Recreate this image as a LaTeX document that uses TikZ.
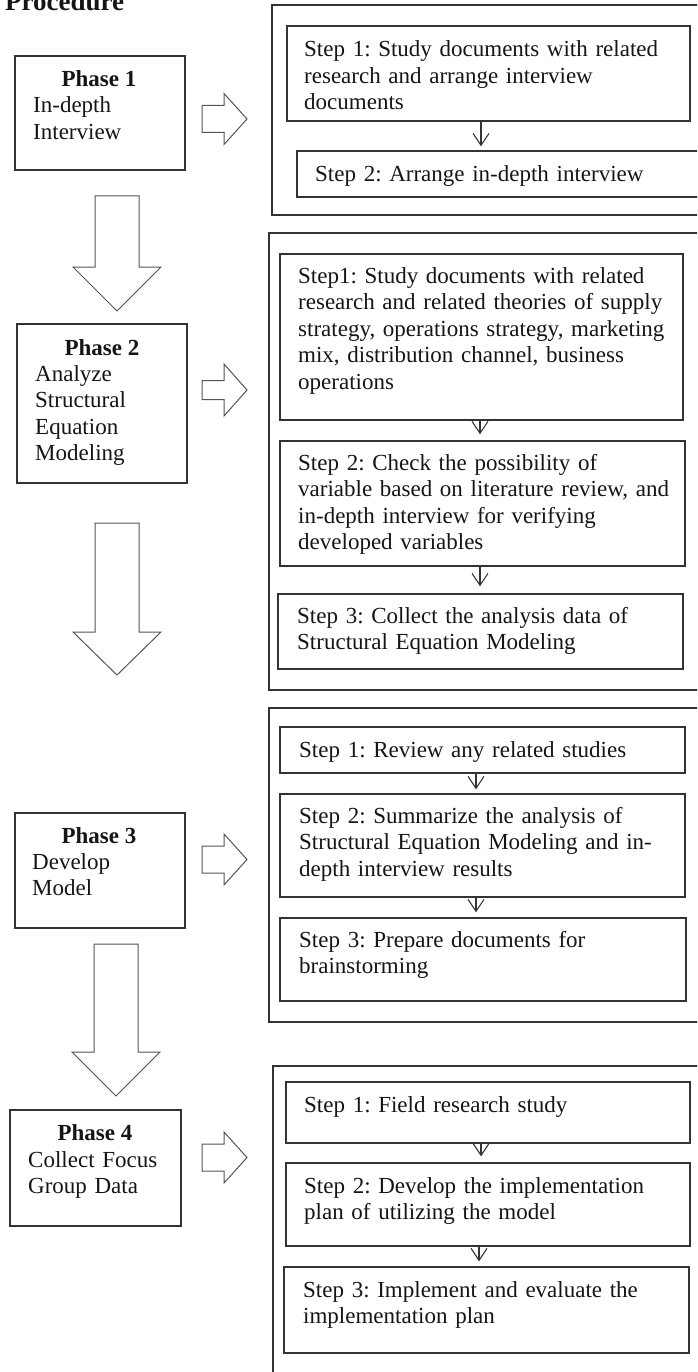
\documentclass[tikz,border=0pt]{standalone}
\usepackage{fontspec}
\setmainfont{Liberation Serif}
\usetikzlibrary{fit,arrows.meta}
\definecolor{ink}{HTML}{151515}
\definecolor{edge}{HTML}{333333}
\definecolor{arr}{HTML}{555555}
\frenchspacing
\begin{document}
\begin{tikzpicture}[x=1pt,y=-1pt,
  stepbox/.style={draw=edge, line width=1.3pt, inner sep=0pt},
  outerbox/.style={draw=edge, line width=1.3pt, inner sep=0pt},
  txt/.style={inner sep=0pt, text width=400pt, align=left, anchor=base west, text=ink, font=\fontsize{23}{26.5}\selectfont},
  ttl/.style={inner sep=0pt, anchor=base, text=ink, font=\fontsize{23}{26.5}\selectfont\bfseries},
  blockarrow/.style={draw=arr, line width=1pt, fill=white, line join=miter},
  smallarrow/.style={draw=edge, line width=1.1pt, -{Straight Barb[length=12pt,width=16pt]}}
]
\useasboundingbox (0,0) rectangle (697,1372);
\clip (0,0) rectangle (697,1372);

% heading
\node[inner sep=0pt, anchor=base west, text=ink, font=\fontsize{27}{30}\selectfont\bfseries] (head) at (5,11) {Procedure};

% phase boxes
\node[stepbox, fit={(15,56) (185,170)}] (p1) {};
\node[stepbox, fit={(17,324) (187,483)}] (p2) {};
\node[stepbox, fit={(15,813) (185,928)}] (p3) {};
\node[stepbox, fit={(10,1110) (181,1226)}] (p4) {};

\node[ttl] (p1t) at (99,87) {Phase 1};
\node[txt] (p1b) at (33,113) {In-depth\\Interview};
\node[ttl] (p2t) at (102,355) {Phase 2};
\node[txt] (p2b) at (35,381) {Analyze\\Structural\\Equation\\Modeling};
\node[ttl] (p3t) at (99,843) {Phase 3};
\node[txt] (p3b) at (32,869) {Develop\\Model};
\node[ttl] (p4t) at (95,1140) {Phase 4};
\node[txt] (p4b) at (28,1167) {Collect Focus\\Group Data};

% down block arrows
\draw[blockarrow] (95,196) -- (139,196) -- (139,267) -- (161,267) -- (117,311) -- (73,267) -- (95,267) -- cycle;
\draw[blockarrow] (95,523) -- (139,523) -- (139,632) -- (161,632) -- (117,675) -- (73,632) -- (95,632) -- cycle;
\draw[blockarrow] (94,944) -- (138,944) -- (138,1052) -- (160,1052) -- (116,1096) -- (72,1052) -- (94,1052) -- cycle;

% right block arrows
\draw[blockarrow] (202,105.5) -- (224,105.5) -- (224,93.5) -- (247,119) -- (224,144.5) -- (224,132.5) -- (202,132.5) -- cycle;
\draw[blockarrow] (202,380.5) -- (224,380.5) -- (224,364) -- (247,390) -- (224,416) -- (224,399.5) -- (202,399.5) -- cycle;
\draw[blockarrow] (202,846) -- (224,846) -- (224,834) -- (247,859.5) -- (224,885) -- (224,873) -- (202,873) -- cycle;
\draw[blockarrow] (202,1144) -- (224,1144) -- (224,1132) -- (247,1157.5) -- (224,1183) -- (224,1171) -- (202,1171) -- cycle;

% outer boxes
\node[outerbox, fit={(272,5) (720,215)}] (o1) {};
\node[outerbox, fit={(269,233) (720,690)}] (o2) {};
\node[outerbox, fit={(269,708) (720,1022)}] (o3) {};
\node[outerbox, fit={(273,1066) (720,1400)}] (o4) {};

% step boxes
\node[stepbox, fit={(287,26) (690,121)}] (s11) {};
\node[stepbox, fit={(297,151) (720,197)}] (s12) {};
\node[stepbox, fit={(280,254) (683,420)}] (s21) {};
\node[stepbox, fit={(280,441) (685,566)}] (s22) {};
\node[stepbox, fit={(278,594) (683,669)}] (s23) {};
\node[stepbox, fit={(280,727) (685,773)}] (s31) {};
\node[stepbox, fit={(280,794) (685,897)}] (s32) {};
\node[stepbox, fit={(280,918) (686,1001)}] (s33) {};
\node[stepbox, fit={(286,1082) (690,1143)}] (s41) {};
\node[stepbox, fit={(286,1163) (690,1246)}] (s42) {};
\node[stepbox, fit={(284,1267) (689,1353)}] (s43) {};

% step texts
\node[txt] (t11) at (304,57) {Step 1: Study documents with related\\research and arrange interview\\documents};
\node[txt] (t12) at (315,182) {Step 2: Arrange in-depth interview};
\node[txt] (t21) at (298,283) {Step1: Study documents with related\\research and related theories of supply\\strategy, operations strategy, marketing\\mix, distribution channel, business\\operations};
\node[txt] (t22) at (298,470) {Step 2: Check the possibility of\\variable based on literature review, and\\in-depth interview for verifying\\developed variables};
\node[txt] (t23) at (297,623) {Step 3: Collect the analysis data of\\Structural Equation Modeling};
\node[txt] (t31) at (299,757) {Step 1: Review any related studies};
\node[txt] (t32) at (299,823) {Step 2: Summarize the analysis of\\Structural Equation Modeling and in-\\depth interview results};
\node[txt] (t33) at (299,947) {Step 3: Prepare documents for\\brainstorming};
\node[txt] (t41) at (304,1112) {Step 1: Field research study};
\node[txt] (t42) at (304,1193) {Step 2: Develop the implementation\\plan of utilizing the model};
\node[txt] (t43) at (303,1297) {Step 3: Implement and evaluate the\\implementation plan};

% small arrows
\coordinate (ax1) at (481,0);
\coordinate (ax2) at (480,0);
\coordinate (ax3) at (476,0);
\coordinate (ax4) at (481,0);
\coordinate (ax5) at (479,0);
\draw[smallarrow] (s11.south -| ax1) -- ([yshift=4pt]s12.north -| ax1);
\draw[smallarrow] (s21.south -| ax2) -- ([yshift=6pt]s22.north -| ax2);
\draw[smallarrow] (s22.south -| ax2) -- ([yshift=7pt]s23.north -| ax2);
\draw[smallarrow] (s31.south -| ax3) -- ([yshift=4pt]s32.north -| ax3);
\draw[smallarrow] (s32.south -| ax3) -- ([yshift=5pt]s33.north -| ax3);
\draw[smallarrow] (s41.south -| ax4) -- ([yshift=6pt]s42.north -| ax4);
\draw[smallarrow] (s42.south -| ax5) -- ([yshift=5pt]s43.north -| ax5);
\end{tikzpicture}
\end{document}
